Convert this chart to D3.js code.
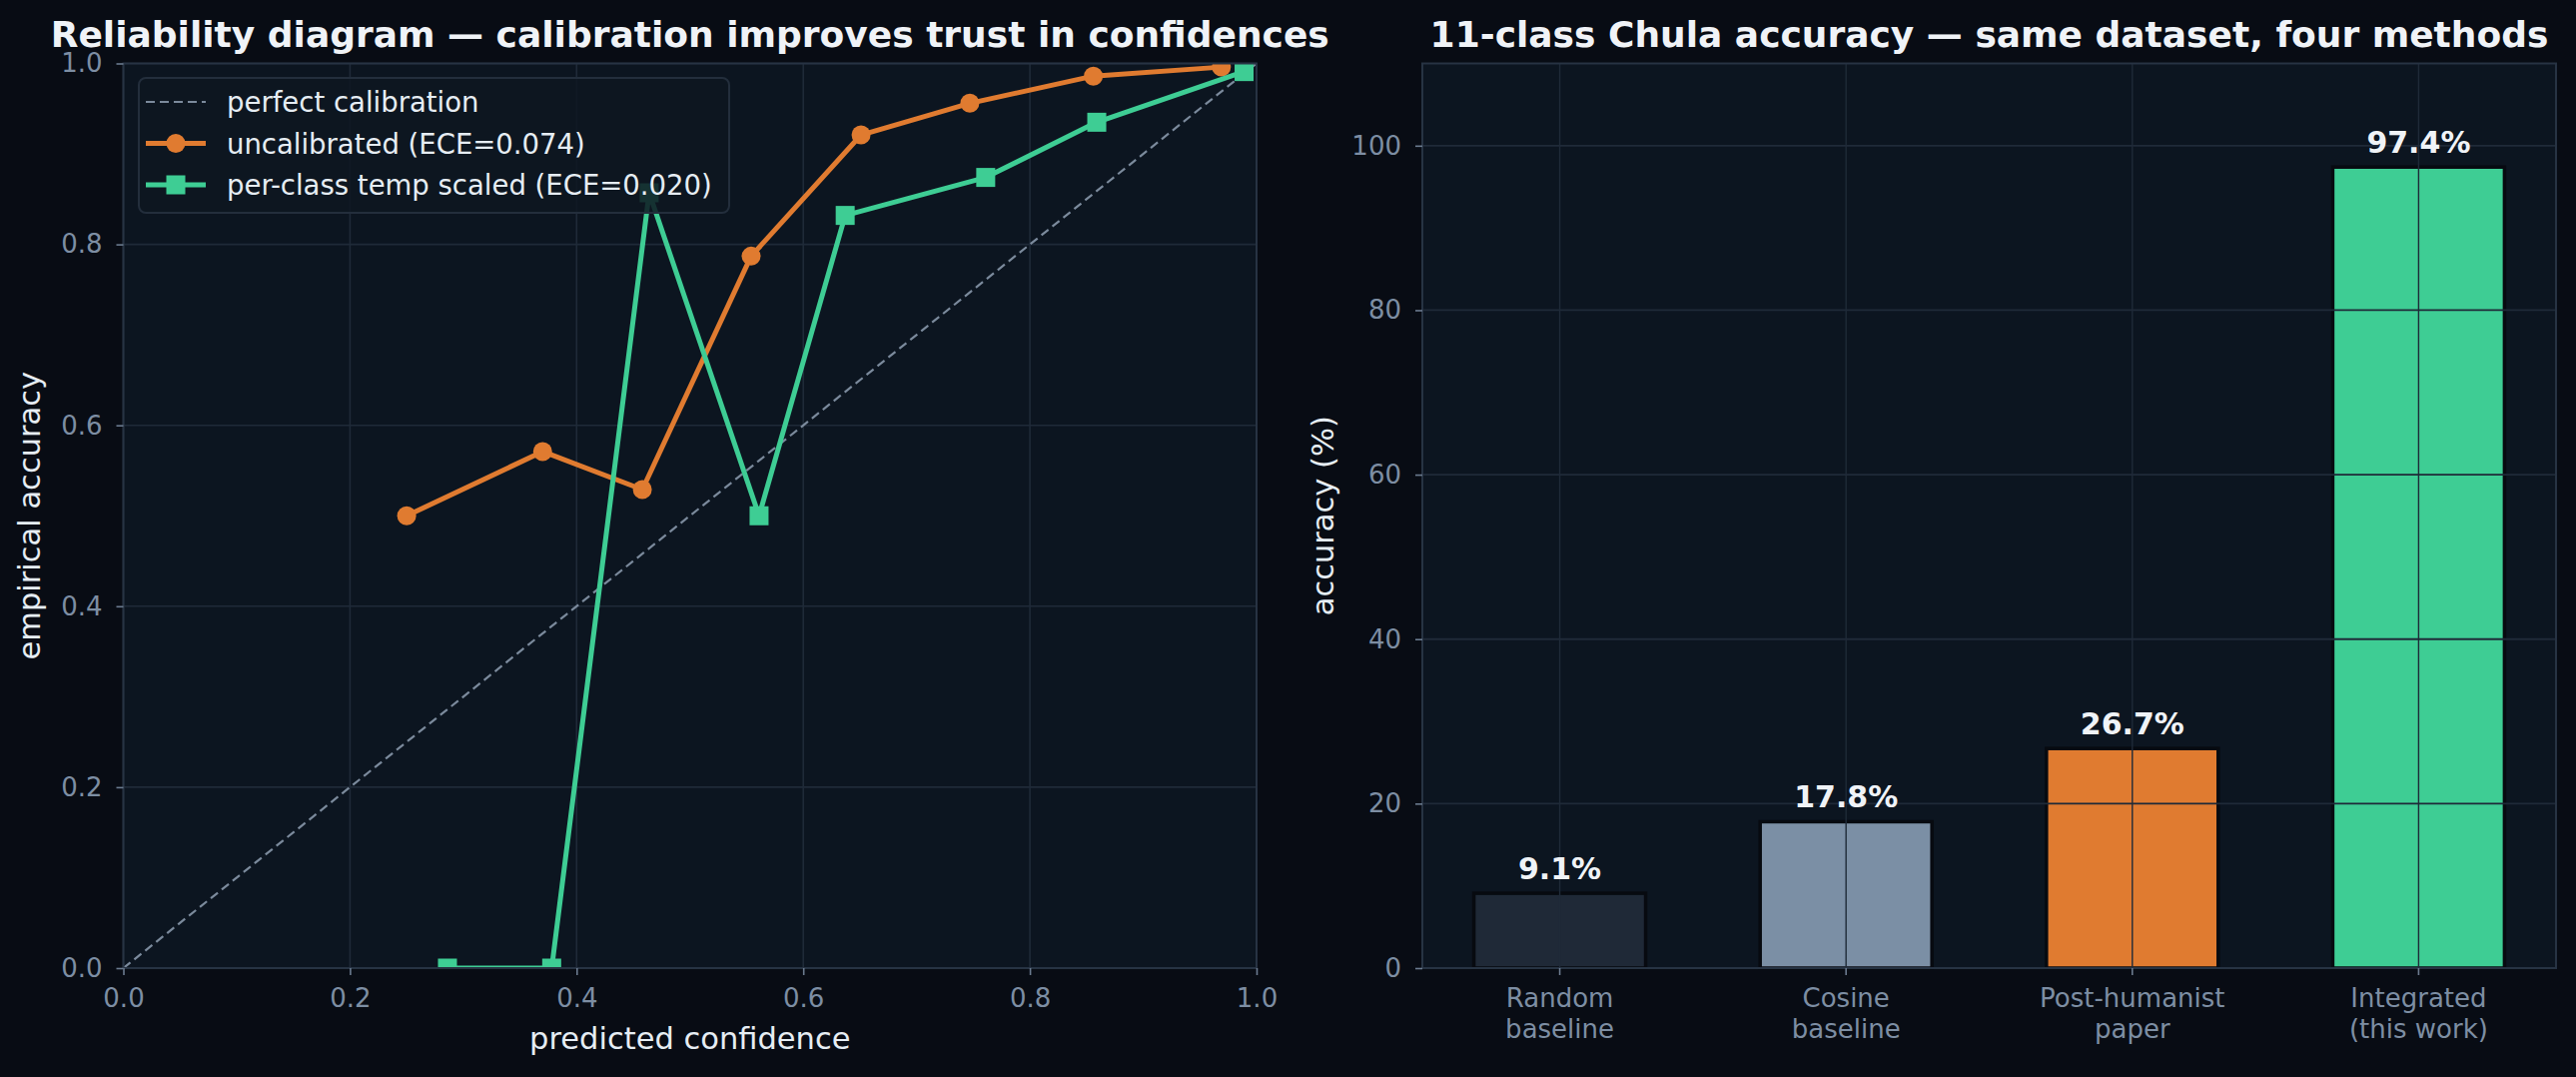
<!DOCTYPE html>
<html>
<head>
<meta charset="utf-8">
<script src="https://cdn.jsdelivr.net/npm/d3@7"></script>
<style>
  html, body { margin: 0; padding: 0; background: #080c14; }
  svg text { font-family: "DejaVu Sans", sans-serif; }
</style>
</head>
<body>
<div id="chart"></div>
<script>
// reliability diagram (left)
const uncalConf = [0.25, 0.37, 0.458, 0.554, 0.651, 0.747, 0.856, 0.969];
const uncalAcc = [0.50, 0.571, 0.529, 0.787, 0.921, 0.956, 0.986, 0.996];
const scaledConf = [0.286, 0.378, 0.464, 0.561, 0.637, 0.761, 0.859, 0.989];
const scaledAcc = [0.0, 0.0, 0.857, 0.50, 0.832, 0.874, 0.935, 0.991];
const legendLabels = ['perfect calibration', 'uncalibrated (ECE=0.074)', 'per-class temp scaled (ECE=0.020)'];
const unitTicks = [0, 0.2, 0.4, 0.6, 0.8, 1.0];

// accuracy bars (right)
const methods = ['Random\nbaseline', 'Cosine\nbaseline', 'Post-humanist\npaper', 'Integrated\n(this work)'];
const accuracy = [9.1, 17.8, 26.7, 97.4];
const accuracyTicks = [0, 20, 40, 60, 80, 100];

const W = 2579, H = 1078;
const tickColor = '#7d8ea3';
const gridColor = '#1f2a38';
const spineColor = '#273343';
const orange = '#e07b30';
const green = '#3ecd94';

const svg = d3.select('#chart').append('svg')
    .attr('width', W)
    .attr('height', H);

svg.append('rect').attr('width', W).attr('height', H).attr('fill', '#080c14');

const defs = svg.append('defs');

function makePanel(id, left, right, top, bottom) {
    defs.append('clipPath').attr('id', id)
        .append('rect')
        .attr('x', left).attr('y', top)
        .attr('width', right - left).attr('height', bottom - top);
    svg.append('rect')
        .attr('x', left).attr('y', top)
        .attr('width', right - left).attr('height', bottom - top)
        .attr('fill', '#0c1520');
    return svg.append('g');
}

function styleAxis(g) {
    g.select('.domain').remove();
    g.selectAll('.tick line').attr('stroke', '#6b7b8f').attr('stroke-width', 1.6);
    g.selectAll('.tick text')
        .attr('fill', tickColor)
        .style('font-size', '26px');
}

function drawFrame(left, right, top, bottom) {
    svg.append('rect')
        .attr('x', left).attr('y', top)
        .attr('width', right - left).attr('height', bottom - top)
        .attr('fill', 'none')
        .attr('stroke', spineColor)
        .attr('stroke-width', 2);
}

// ---------- left panel ----------
const L = {left: 123.5, right: 1258, top: 63.5, bottom: 969};
const xL = d3.scaleLinear().domain([0, 1]).range([L.left, L.right]);
const yL = d3.scaleLinear().domain([0, 1]).range([L.bottom, L.top]);

const gL = makePanel('clipL', L.left, L.right, L.top, L.bottom);

gL.selectAll('.vgrid').data(unitTicks).enter().append('line')
    .attr('x1', d => xL(d)).attr('x2', d => xL(d))
    .attr('y1', L.top).attr('y2', L.bottom)
    .attr('stroke', gridColor).attr('stroke-width', 1.6);
gL.selectAll('.hgrid').data(unitTicks).enter().append('line')
    .attr('x1', L.left).attr('x2', L.right)
    .attr('y1', d => yL(d)).attr('y2', d => yL(d))
    .attr('stroke', gridColor).attr('stroke-width', 1.6);

const plotL = gL.append('g').attr('clip-path', 'url(#clipL)');

plotL.append('line')
    .attr('x1', xL(0)).attr('y1', yL(0))
    .attr('x2', xL(1)).attr('y2', yL(1))
    .attr('stroke', '#7b8a9c')
    .attr('stroke-width', 2.2)
    .attr('stroke-dasharray', '9,5');

const lineGen = d3.line().x(d => xL(d[0])).y(d => yL(d[1]));
const uncal = d3.zip(uncalConf, uncalAcc);
const scaled = d3.zip(scaledConf, scaledAcc);

plotL.append('path').datum(uncal)
    .attr('d', lineGen)
    .attr('fill', 'none').attr('stroke', orange).attr('stroke-width', 5)
    .attr('stroke-linejoin', 'round');
plotL.selectAll('.dot').data(uncal).enter().append('circle')
    .attr('cx', d => xL(d[0])).attr('cy', d => yL(d[1]))
    .attr('r', 9.5).attr('fill', orange);

plotL.append('path').datum(scaled)
    .attr('d', lineGen)
    .attr('fill', 'none').attr('stroke', green).attr('stroke-width', 5)
    .attr('stroke-linejoin', 'round');
plotL.selectAll('.sq').data(scaled).enter().append('rect')
    .attr('x', d => xL(d[0]) - 9.5).attr('y', d => yL(d[1]) - 9.5)
    .attr('width', 19).attr('height', 19).attr('fill', green);

drawFrame(L.left, L.right, L.top, L.bottom);

svg.append('g')
    .attr('transform', `translate(0,${L.bottom})`)
    .call(d3.axisBottom(xL).tickValues(unitTicks).tickFormat(d3.format('.1f')).tickSize(7).tickPadding(14))
    .call(styleAxis);
svg.append('g')
    .attr('transform', `translate(${L.left},0)`)
    .call(d3.axisLeft(yL).tickValues(unitTicks).tickFormat(d3.format('.1f')).tickSize(7).tickPadding(14))
    .call(styleAxis);

// legend
const legend = svg.append('g');
legend.append('rect')
    .attr('x', 139).attr('y', 78).attr('width', 591).attr('height', 135).attr('rx', 7)
    .attr('fill', '#0e1621').attr('fill-opacity', 0.85)
    .attr('stroke', '#232e3c').attr('stroke-width', 2);
legendLabels.forEach((label, i) => {
    const cy = 102 + i * 41.5;
    const row = legend.append('g');
    if (i === 0) {
        row.append('line').attr('x1', 146).attr('x2', 206).attr('y1', cy).attr('y2', cy)
            .attr('stroke', '#7b8a9c').attr('stroke-width', 2.2).attr('stroke-dasharray', '9,5');
    } else {
        const c = i === 1 ? orange : green;
        row.append('line').attr('x1', 146).attr('x2', 206).attr('y1', cy).attr('y2', cy)
            .attr('stroke', c).attr('stroke-width', 5);
        if (i === 1) row.append('circle').attr('cx', 176).attr('cy', cy).attr('r', 9.5).attr('fill', c);
        else row.append('rect').attr('x', 166.5).attr('y', cy - 9.5).attr('width', 19).attr('height', 19).attr('fill', c);
    }
    row.append('text').attr('x', 227).attr('y', cy + 10)
        .attr('fill', '#e6edf3').style('font-size', '27.5px').text(label);
});

svg.append('text')
    .attr('x', (L.left + L.right) / 2).attr('y', 1050)
    .attr('text-anchor', 'middle').attr('fill', '#e6edf3').style('font-size', '30.5px')
    .text('predicted confidence');
svg.append('text')
    .attr('transform', `translate(40,${(L.top + L.bottom) / 2}) rotate(-90)`)
    .attr('text-anchor', 'middle').attr('fill', '#e6edf3').style('font-size', '30.5px')
    .text('empirical accuracy');
svg.append('text')
    .attr('x', (L.left + L.right) / 2).attr('y', 47)
    .attr('text-anchor', 'middle').attr('fill', '#f0f3f7')
    .style('font-size', '36px').style('font-weight', 'bold')
    .text('Reliability diagram — calibration improves trust in confidences');

// ---------- right panel ----------
const R = {left: 1424, right: 2559, top: 63.5, bottom: 969};
const xR = d3.scaleBand().domain(methods).range([R.left, R.right])
    .paddingInner(0.4).paddingOuter(0.18);
const yR = d3.scaleLinear().domain([0, 110]).range([R.bottom, R.top]);
const barColor = d3.scaleOrdinal().domain(methods).range(['#1f2937', '#7b8fa5', orange, green]);

const gR = makePanel('clipR', R.left, R.right, R.top, R.bottom);

gR.selectAll('.bar').data(methods).enter().append('rect')
    .attr('x', d => xR(d)).attr('width', xR.bandwidth())
    .attr('y', (d, i) => yR(accuracy[i]))
    .attr('height', (d, i) => yR(0) - yR(accuracy[i]))
    .attr('fill', d => barColor(d))
    .attr('stroke', '#070a10').attr('stroke-width', 3.5);

// grid sits above the bars, like matplotlib's default
gR.selectAll('.vgrid').data(methods).enter().append('line')
    .attr('x1', d => xR(d) + xR.bandwidth() / 2).attr('x2', d => xR(d) + xR.bandwidth() / 2)
    .attr('y1', R.top).attr('y2', R.bottom)
    .attr('stroke', '#1f2a38').attr('stroke-width', 1.4);
gR.selectAll('.hgrid').data(accuracyTicks).enter().append('line')
    .attr('x1', R.left).attr('x2', R.right)
    .attr('y1', d => yR(d)).attr('y2', d => yR(d))
    .attr('stroke', '#1f2a38').attr('stroke-width', 1.8);

gR.selectAll('.val').data(methods).enter().append('text')
    .attr('x', d => xR(d) + xR.bandwidth() / 2)
    .attr('y', (d, i) => yR(accuracy[i]) - 14)
    .attr('text-anchor', 'middle').attr('fill', '#f0f3f7')
    .style('font-size', '30px').style('font-weight', 'bold')
    .text((d, i) => accuracy[i].toFixed(1) + '%');

drawFrame(R.left, R.right, R.top, R.bottom);

const xAxisR = svg.append('g')
    .attr('transform', `translate(0,${R.bottom})`)
    .call(d3.axisBottom(xR).tickSize(7).tickPadding(14))
    .call(styleAxis);
xAxisR.selectAll('.tick text').each(function (d) {
    const t = d3.select(this).text(null);
    d.split('\n').forEach((part, i) => {
        t.append('tspan').attr('x', 0).attr('dy', i === 0 ? '0.71em' : '1.17em').text(part);
    });
});

svg.append('g')
    .attr('transform', `translate(${R.left},0)`)
    .call(d3.axisLeft(yR).tickValues(accuracyTicks).tickSize(7).tickPadding(14))
    .call(styleAxis);

svg.append('text')
    .attr('transform', `translate(1335,${(R.top + R.bottom) / 2}) rotate(-90)`)
    .attr('text-anchor', 'middle').attr('fill', '#e6edf3').style('font-size', '30.5px')
    .text('accuracy (%)');
svg.append('text')
    .attr('x', (R.left + R.right) / 2).attr('y', 47)
    .attr('text-anchor', 'middle').attr('fill', '#f0f3f7')
    .style('font-size', '36px').style('font-weight', 'bold')
    .text('11-class Chula accuracy — same dataset, four methods');
</script>
</body>
</html>
